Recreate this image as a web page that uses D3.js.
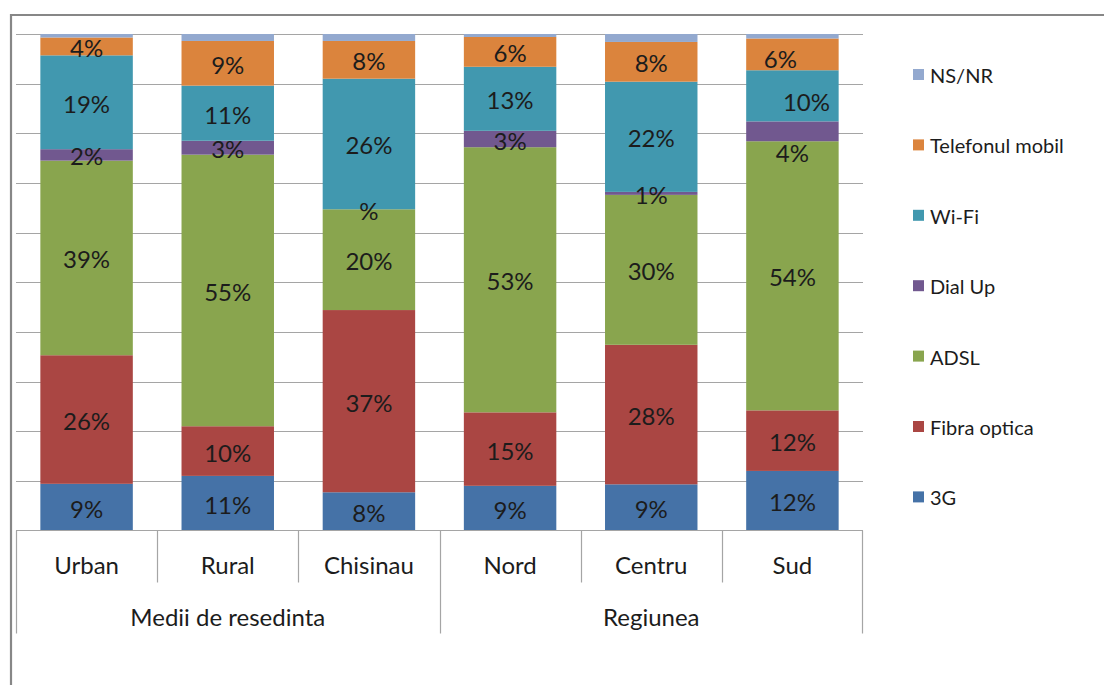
<!DOCTYPE html>
<html>
<head>
<meta charset="utf-8">
<script src="https://cdn.jsdelivr.net/npm/d3@7"></script>
<style>
  body { margin: 0; background: #fff; }
  svg { display: block; font-family: Lato, "Open Sans", sans-serif; }
  .grid line { stroke: #a5a5a5; stroke-width: 1.2; }
  .sep { stroke: #a5a5a5; stroke-width: 1.2; }
  .lbl { font-size: 24px; fill: #1c1c1c; }
  .cat { font-size: 24px; fill: #1c1c1c; }
  .legend text { font-size: 20px; fill: #1c1c1c; }
</style>
</head>
<body>
<div id="chart"></div>
<script>
// categories and their group on the two-level axis
const categories = ["Urban", "Rural", "Chisinau", "Nord", "Centru", "Sud"];
const groupNames = ["Medii de resedinta", "Regiunea"];
const groupOf = [0, 0, 0, 1, 1, 1];

// series values, percent (bottom to top)
const v3G        = [9.4, 11.0, 7.7, 9.0, 9.3, 12.0];
const vFibra     = [25.9, 10.0, 36.7, 14.8, 28.1, 12.2];
const vADSL      = [39.2, 54.7, 20.3, 53.4, 30.2, 54.2];
const vDialUp    = [2.3, 2.8, 0, 3.3, 0.6, 4.0];
const vWiFi      = [18.9, 11.1, 26.3, 12.9, 22.2, 10.3];
const vTelefon   = [3.6, 9.0, 7.6, 6.0, 8.0, 6.4];
const vNSNR      = [0.7, 1.4, 1.4, 0.6, 1.6, 0.9];

const seriesNames = ["3G", "Fibra optica", "ADSL", "Dial Up", "Wi-Fi", "Telefonul mobil", "NS/NR"];
const seriesValues = [v3G, vFibra, vADSL, vDialUp, vWiFi, vTelefon, vNSNR];
const colors = ["#4572a7", "#aa4643", "#89a54e", "#71588f", "#4198af", "#db843d", "#93a9cf"];
const unlabelled = ["NS/NR"];
const yTicks = [0, 10, 20, 30, 40, 50, 60, 70, 80, 90, 100];

// hand-moved labels in the original (series|category -> [dx, dy])
const labelNudge = { "Dial Up|Sud": [0, 20], "Wi-Fi|Sud": [14, 5], "Telefonul mobil|Sud": [-12, 3] };

const width = 1104, height = 685;
const margin = { top: 34, left: 16, right: 241, bottom: 155 };
const plotRight = width - margin.right;
const plotBottom = height - margin.bottom + 0.5;

const svg = d3.select("#chart").append("svg")
  .attr("width", width)
  .attr("height", height);

// outer frame (only left and top edges visible)
svg.append("path")
  .attr("d", `M11,${height} V15 H${width}`)
  .attr("fill", "none")
  .attr("stroke", "#878787")
  .attr("stroke-width", 2.2);

const rows = categories.map((c, i) => {
  const r = { cat: c };
  seriesNames.forEach((s, k) => r[s] = seriesValues[k][i]);
  return r;
});
const stacked = d3.stack().keys(seriesNames)(rows);

const x = d3.scaleBand().domain(categories)
  .range([margin.left, plotRight])
  .paddingInner(0.345).paddingOuter(0.1725);
const xCell = d3.scaleBand().domain(categories).range([margin.left, plotRight]).padding(0);
const y = d3.scaleLinear().domain([0, 100]).range([plotBottom, margin.top]);

// gridlines
svg.append("g").attr("class", "grid")
  .selectAll("line").data(yTicks.slice(1)).join("line")
  .attr("x1", margin.left).attr("x2", plotRight)
  .attr("y1", d => Math.round(y(d)) + 0.5).attr("y2", d => Math.round(y(d)) + 0.5);

// stacked bars
const layer = svg.append("g").selectAll("g").data(stacked).join("g")
  .attr("fill", (d, i) => colors[i]);
layer.selectAll("rect").data(d => d).join("rect")
  .attr("x", d => x(d.data.cat))
  .attr("width", x.bandwidth())
  .attr("y", d => y(d[1]))
  .attr("height", d => y(d[0]) - y(d[1]));

// data labels
const fmt = v => (Math.round(v) || "") + "%";
const nudge = (s, d) => labelNudge[s + "|" + d.data.cat] || [0, 0];
stacked.filter(s => !unlabelled.includes(s.key)).forEach(s => {
  svg.append("g").selectAll("text").data(s).join("text")
    .attr("class", "lbl")
    .attr("text-anchor", "middle")
    .attr("dominant-baseline", "central")
    .attr("x", d => x(d.data.cat) + x.bandwidth() / 2 + nudge(s.key, d)[0])
    .attr("y", d => (y(d[0]) + y(d[1])) / 2 + 1 + nudge(s.key, d)[1])
    .text(d => fmt(d[1] - d[0]));
});

// category axis (two levels)
const axis = svg.append("g");
axis.append("line").attr("class", "sep")
  .attr("x1", margin.left).attr("x2", plotRight)
  .attr("y1", plotBottom).attr("y2", plotBottom);

const level1 = plotBottom + 52, level2 = plotBottom + 103;
categories.forEach((c, i) => {
  const x0 = xCell(c);
  const groupEdge = i === 0 || groupOf[i] !== groupOf[i - 1];
  axis.append("line").attr("class", "sep")
    .attr("x1", Math.round(x0) + 0.5).attr("x2", Math.round(x0) + 0.5)
    .attr("y1", plotBottom).attr("y2", groupEdge ? level2 : level1);
  axis.append("text").attr("class", "cat")
    .attr("x", x0 + xCell.bandwidth() / 2)
    .attr("y", plotBottom + 43)
    .attr("text-anchor", "middle")
    .text(c);
});
axis.append("line").attr("class", "sep")
  .attr("x1", plotRight - 0.5).attr("x2", plotRight - 0.5)
  .attr("y1", plotBottom).attr("y2", level2);

groupNames.forEach((g, gi) => {
  const members = categories.filter((c, i) => groupOf[i] === gi);
  const gx0 = xCell(members[0]);
  const gx1 = xCell(members[members.length - 1]) + xCell.bandwidth();
  axis.append("text").attr("class", "cat")
    .attr("x", (gx0 + gx1) / 2)
    .attr("y", plotBottom + 95)
    .attr("text-anchor", "middle")
    .text(g);
});

// legend, top entry is the last series
const legendOrder = seriesNames.slice().reverse();
const legend = svg.append("g").attr("class", "legend")
  .selectAll("g").data(legendOrder).join("g")
  .attr("transform", (d, i) => `translate(913, ${75 + i * 70.4})`);
legend.append("rect")
  .attr("x", 0).attr("y", -6).attr("width", 11).attr("height", 11)
  .attr("fill", d => colors[seriesNames.indexOf(d)]);
legend.append("text")
  .attr("x", 17).attr("y", 0)
  .attr("dominant-baseline", "central")
  .text(d => d);
</script>
</body>
</html>
